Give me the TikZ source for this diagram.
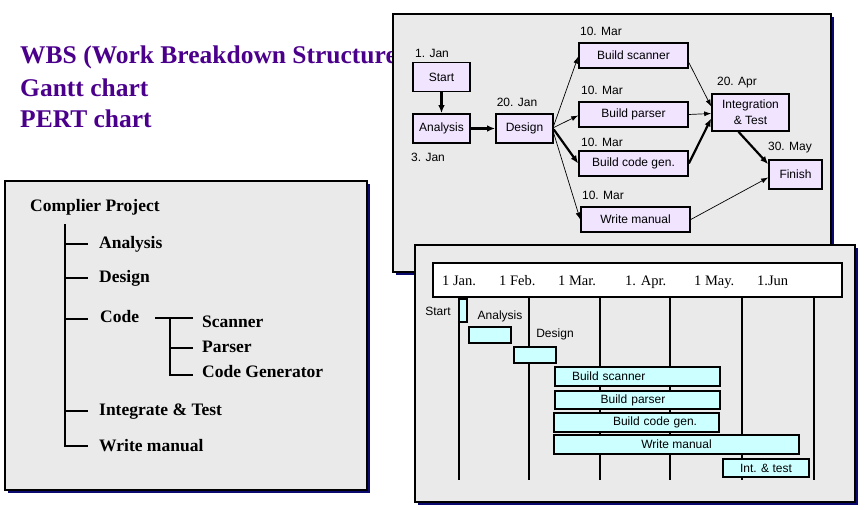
\documentclass[tikz,border=0pt]{standalone}
\usepackage{fontspec}
\setmainfont{Liberation Serif}
\newfontfamily\arial{Liberation Sans}
\usetikzlibrary{arrows.meta}
\definecolor{titlepurple}{RGB}{75,0,140}
\definecolor{panelgray}{RGB}{234,234,234}
\definecolor{navy}{RGB}{10,10,110}
\definecolor{lav}{RGB}{240,228,255}
\definecolor{cyanl}{RGB}{204,255,255}
\tikzset{
  panel/.style={fill=panelgray, draw=black, line width=1.3pt},
  shadowbox/.style={fill=navy},
  title/.style={font=\bfseries\fontsize{25.5}{30}\selectfont, text=titlepurple, anchor=base west, inner sep=0pt},
  pbox/.style={draw=black, line width=1.6pt, fill=lav, inner sep=0pt, align=center,
    font=\arial\fontsize{12}{16}\selectfont},
  plabel/.style={font=\arial\fontsize{12}{13}\selectfont, inner sep=0pt},
  thinarrow/.style={-{Latex[length=7pt,width=5pt]}, line width=0.7pt},
  thickarrow/.style={-{Latex[length=8pt,width=6.5pt]}, line width=2.2pt},
  gbar/.style={draw=black, line width=1.3pt, fill=cyanl, inner xsep=0pt, inner ysep=0pt,
    font=\arial\fontsize{12}{13}\selectfont},
  glabel/.style={font=\arial\fontsize{12}{13}\selectfont, inner sep=0pt},
  month/.style={font=\fontsize{14.5}{16}\selectfont, anchor=base west, inner sep=0pt},
  wbs/.style={font=\bfseries\fontsize{17.5}{20}\selectfont, anchor=base west, inner sep=0pt},
  treeline/.style={line width=1.3pt, black},
}
\begin{document}
\begin{tikzpicture}[x=1pt,y=-1pt]
\useasboundingbox (0,0) rectangle (865,510);

% ---------- titles ----------
\node[title] (t1) at (20,64) {WBS (Work Breakdown Structure)};
\node[title] (t2) at (20,97) {Gantt chart};
\node[title] (t3) at (20,128) {PERT chart};

% ---------- WBS panel ----------
\fill[shadowbox] (8,184) rectangle (370,493);
\draw[panel] (5,181) rectangle (367,490);
\node[wbs] (proj) at (30,212) {Complier Project};
\node[wbs] (w1) at (99,249) {Analysis};
\node[wbs] (w2) at (99,283) {Design};
\node[wbs] (w3) at (100,323) {Code};
\node[wbs] (w31) at (202,328) {Scanner};
\node[wbs] (w32) at (202,353) {Parser};
\node[wbs] (w33) at (202,378) {Code Generator};
\node[wbs] (w4) at (99,416) {Integrate \& Test};
\node[wbs] (w5) at (99,451) {Write manual};
\coordinate (tt) at (65,224);
\draw[treeline] (tt) -- (65,446) -- (88,446);
\draw[treeline] (65,244) -- (88,244);
\draw[treeline] (65,278) -- (88,278);
\draw[treeline] (65,319) -- (88,319);
\draw[treeline] (65,411) -- (88,411);
\draw[treeline] (155,318) -- (193,318);
\draw[treeline] (170,318) -- (170,375) -- (193,375);
\draw[treeline] (170,348) -- (193,348);

% ---------- PERT panel ----------
\fill[shadowbox] (396,17) rectangle (834,275);
\draw[panel] (393,14) rectangle (831,272);

\node[pbox, minimum width=57pt, minimum height=29pt] (start) at (441.5,77) {Start};
\node[pbox, minimum width=57pt, minimum height=29pt] (analysis) at (441.5,128.5) {Analysis};
\node[pbox, minimum width=57pt, minimum height=29pt] (design) at (524.5,128.5) {Design};
\node[pbox, minimum width=109pt, minimum height=25pt] (scan) at (633.5,55.5) {Build scanner};
\node[pbox, minimum width=109pt, minimum height=25pt] (pars) at (633.5,114.5) {Build parser};
\node[pbox, minimum width=109pt, minimum height=25pt] (cgen) at (633.5,163.5) {Build code gen.};
\node[pbox, minimum width=109pt, minimum height=25pt] (man) at (635.5,219.5) {Write manual};
\node[pbox, minimum width=77pt, minimum height=37pt] (integ) at (750.5,112.5) {Integration\\\& Test};
\node[pbox, minimum width=53pt, minimum height=29pt] (fin) at (795.5,174.5) {Finish};

\node[plabel] (l1) at (432,53) {1. Jan};
\node[plabel] (l2) at (428,157) {3. Jan};
\node[plabel] (l3) at (517,102) {20. Jan};
\node[plabel] (l4) at (601,31) {10. Mar};
\node[plabel] (l5) at (602,90) {10. Mar};
\node[plabel] (l6) at (602,142) {10. Mar};
\node[plabel] (l7) at (603,195) {10. Mar};
\node[plabel] (l8) at (737,83) {20. Apr};
\node[plabel] (l9) at (790,148) {30. May};

\draw[thickarrow] (start) -- (analysis);
\draw[thickarrow] (analysis) -- (design);
\draw[thinarrow] ([yshift=3pt]design.east) -- ([yshift=-1pt]scan.west);
\draw[thinarrow] ([yshift=1pt]design.east) -- ([yshift=-1pt]pars.west);
\draw[thickarrow] ([yshift=-1pt]design.east) -- (cgen.west);
\draw[thinarrow] ([yshift=-5pt]design.east) -- (man.west);
\draw[thinarrow] ([yshift=-7pt]scan.east) -- ([yshift=6pt]integ.west);
\draw[thinarrow] (pars.east) -- ([yshift=-1pt]integ.west);
\draw[thickarrow] (cgen.east) -- ([yshift=-6pt]integ.west);
\draw[thickarrow] ([xshift=-12pt]integ.south) -- ([yshift=-5pt]fin.north west);
\draw[thinarrow] (man.east) -- ([yshift=-3pt]fin.west);

% ---------- Gantt panel ----------
\fill[shadowbox] (418,248) rectangle (858,505);
\draw[panel] (415,245) rectangle (855,502);

\node[draw=black, line width=1.3pt, fill=white, minimum width=409pt, minimum height=34pt, inner sep=0pt] (hdr) at (637.5,280) {};
\node[month] (m1) at (442,286) {1 Jan.};
\node[month] (m2) at (499,286) {1 Feb.};
\node[month] (m3) at (558,286) {1 Mar.};
\node[month] (m4) at (625,286) {1. Apr.};
\node[month] (m5) at (694,286) {1 May.};
\node[month] (m6) at (757,286) {1.Jun};

\foreach \x in {459,529,600,670,742,814}
  \draw[line width=1.3pt] (\x,297) -- (\x,480);

\node[gbar, minimum width=8pt, minimum height=23pt] (gstart) at (463,310.5) {};
\node[gbar, minimum width=42pt, minimum height=16pt] (gan) at (490,335) {};
\node[gbar, minimum width=42pt, minimum height=16pt] (gdes) at (535,355) {};
\node[gbar, minimum width=165pt, minimum height=19pt, text width=165pt, align=left] (gscan) at (637.5,376.5) {\hspace*{17pt}Build scanner};
\node[gbar, minimum width=165pt, minimum height=18pt, text width=165pt, align=center] (gpars) at (637.5,400) {\hspace*{-9pt}Build parser};
\node[gbar, minimum width=165pt, minimum height=19pt, text width=165pt, align=left] (gcgen) at (636.5,422.5) {\hspace*{59pt}Build code gen.};
\node[gbar, minimum width=245pt, minimum height=19pt] (gman) at (676.5,444.5) {Write manual};
\node[gbar, minimum width=86pt, minimum height=18pt] (gint) at (766,468) {Int. \& test};

\node[glabel] (gl1) at (438,311) {Start};
\node[glabel] (gl2) at (500,316) {Analysis};
\node[glabel] (gl3) at (555,334) {Design};
\end{tikzpicture}
\end{document}
